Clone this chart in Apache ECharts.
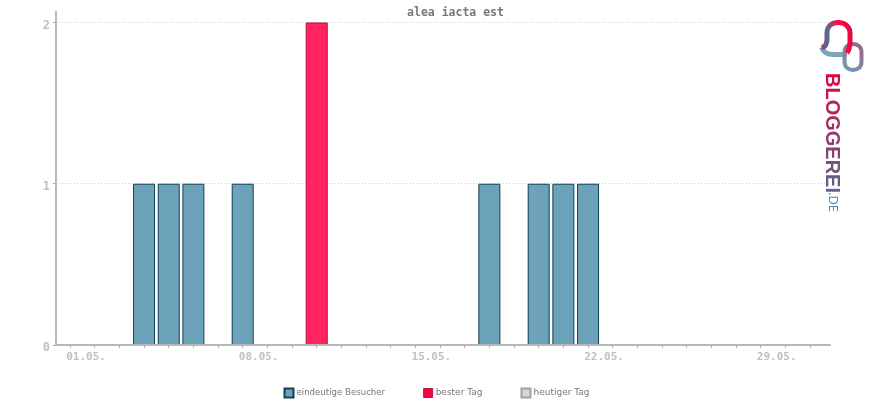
<!DOCTYPE html>
<html>
<head>
<meta charset="utf-8">
<style>html,body{margin:0;padding:0;background:#fff}#main{width:870px;height:400px}</style>
<script src="https://cdn.jsdelivr.net/npm/echarts@6/dist/echarts.min.js"></script>
</head>
<body>
<div id="main"></div>
<script>
var days = ['01.05.','02.05.','03.05.','04.05.','05.05.','06.05.','07.05.','08.05.','09.05.','10.05.',
  '11.05.','12.05.','13.05.','14.05.','15.05.','16.05.','17.05.','18.05.','19.05.','20.05.',
  '21.05.','22.05.','23.05.','24.05.','25.05.','26.05.','27.05.','28.05.','29.05.','30.05.','31.05.'];
var visitors = [0,0,0,1,1,1,0,1,0,0,0,0,0,0,0,0,0,1,0,1,1,1,0,0,0,0,0,0,0,0,0];
var bestDay  = [0,0,0,0,0,0,0,0,0,0,2,0,0,0,0,0,0,0,0,0,0,0,0,0,0,0,0,0,0,0,0];
var today    = [0,0,0,0,0,0,0,0,0,0,0,0,0,0,0,0,0,0,0,0,0,0,0,0,0,0,0,0,0,0,0];
var dayTicks = days.map(function (d, i) { return i; });
var labelDays = [0, 7, 14, 21, 28];
var yTicks = [0, 1, 2];
var logoWord = 'BLOGGEREI';
var logoColors = ['#e0063f','#d0104a','#bb2055','#a82c5f','#983868','#864570','#74527c','#635d86','#55688f'];

var mono = '"DejaVu Sans Mono", monospace';

function toPoints(arr) {
  return arr.map(function (v, i) { return [i, v]; }).filter(function (p) { return p[1] > 0; });
}

function grad(x, y, x2, y2, stops) {
  return new echarts.graphic.LinearGradient(x, y, x2, y2, stops.map(function (c, i) {
    return { offset: i / (stops.length - 1), color: c };
  }));
}

// the graphic component has no plain path type, so the logo strokes get registered as shapes
echarts.graphic.registerShape('logoBar', echarts.graphic.extendPath('M821.5 47.5C824 53 828 54.5 833 54.5L847 54.5', {}));
echarts.graphic.registerShape('logoRing', echarts.graphic.extendPath('M844.5 52.5C844.5 47 848 44 853 44C858 44 861.5 47 861.5 52.5L861.5 61.5C861.5 67 858 70 853 70C848 70 844.5 67 844.5 61.5Z', {}));
echarts.graphic.registerShape('logoArch', echarts.graphic.extendPath('M821.5 47.5C825 47 827 44 827 39L827 33C827 26 832 22.5 838.5 22.5C845 22.5 850 27 850 33L850 42C850 47 849 50 847 53', {}));

var rich = {};
var logoText = '';
logoColors.forEach(function (c, i) {
  rich['l' + i] = { fill: c, font: 'bold 20px "Liberation Sans"' };
  logoText += '{l' + i + '|' + logoWord[i] + '}';
});

var legendFont = '"DejaVu Sans"';

var option = {
  animation: false,
  backgroundColor: '#fff',
  title: {
    text: 'alea iacta est',
    left: 450.5, top: 2, textAlign: 'center',
    textStyle: { fontFamily: mono, fontSize: 11.5, fontWeight: 'bold', color: '#777' }
  },
  legend: {
    top: 382.5, left: 278.5,
    itemWidth: 9, itemHeight: 9, itemGap: 38,
    icon: 'rect',
    textStyle: { fontFamily: legendFont, fontSize: 8.6, color: '#777', padding: [0, 0, 0, -2] },
    data: [
      { name: 'eindeutige Besucher' },
      { name: 'bester Tag', itemStyle: { color: '#ff0040', borderColor: '#c0103f', borderWidth: 1 },
        textStyle: { fontFamily: legendFont, fontSize: 9, color: '#777', padding: [0, 3, 0, -2] } },
      { name: 'heutiger Tag', textStyle: { fontFamily: legendFont, fontSize: 9, color: '#777', padding: [0, 0, 0, -2] } }
    ]
  },
  grid: { left: 56, right: 40, top: 12, bottom: 55 },
  xAxis: {
    type: 'value', min: -0.57, max: 30.81, z: 5,
    splitLine: { show: false },
    axisLine: { onZero: false, lineStyle: { color: '#b8b8b8', width: 2 } },
    axisTick: { customValues: dayTicks, length: 3, lineStyle: { color: '#aaa' } },
    axisLabel: {
      customValues: labelDays,
      formatter: function (v) { return days[v]; },
      fontFamily: mono, fontSize: 11, fontWeight: 'bold', color: '#c0c0c0', margin: 7,
      padding: [0, 0, 0, 32], hideOverlap: false, showMinLabel: true, showMaxLabel: true
    }
  },
  yAxis: {
    type: 'value', min: 0, max: 2.065,
    splitLine: { show: true, lineStyle: { color: '#ccc', type: [1, 2], width: 1 } },
    axisLine: { show: true, onZero: false, lineStyle: { color: '#b8b8b8', width: 2 } },
    axisTick: { show: true, customValues: yTicks, length: 3, lineStyle: { color: '#aaa' } },
    axisLabel: {
      customValues: yTicks,
      fontFamily: mono, fontSize: 12, fontWeight: 'bold', color: '#c0c0c0', margin: 6,
      verticalAlign: 'top', lineHeight: 6
    }
  },
  series: [
    { name: 'eindeutige Besucher', type: 'bar', barWidth: 22, barGap: '-100%',
      data: toPoints(visitors),
      itemStyle: { color: '#6ca3bb', borderColor: '#123f55', borderWidth: 1 } },
    { name: 'bester Tag', type: 'bar', barWidth: 22, barGap: '-100%',
      data: toPoints(bestDay),
      itemStyle: { color: '#ff2460', borderColor: '#b00a3c', borderWidth: 1 } },
    { name: 'heutiger Tag', type: 'bar', barWidth: 22, barGap: '-100%',
      data: toPoints(today),
      itemStyle: { color: '#d6d6d6', borderColor: '#a0a0a0', borderWidth: 1 } }
  ],
  graphic: [
    { type: 'logoBar', z: 20,
      style: { fill: 'none', lineWidth: 5, stroke: grad(0, 0, 1, 0, ['#6aa9c4', '#8fa3b0']) } },
    { type: 'logoRing', z: 21,
      style: { fill: 'none', lineWidth: 4, stroke: grad(0, 1, 1, 0, ['#6aa3bc', '#a05c80']) } },
    { type: 'logoArch', z: 22,
      style: { fill: 'none', lineWidth: 5, stroke: grad(0, 0.6, 1, 0.3, ['#8a4a74', '#4f6f92', '#ff0a45', '#e0063f']) } },
    { type: 'text', x: 842, y: 73, rotation: -Math.PI / 2, z: 20,
      style: { text: logoText, rich: rich, textAlign: 'left', textVerticalAlign: 'top' } },
    { type: 'text', x: 839, y: 192, rotation: -Math.PI / 2, z: 20,
      style: { text: '.DE', fill: '#4c86a6', font: '13px "Open Sans"', textAlign: 'left', textVerticalAlign: 'top' } }
  ]
};

var chart = echarts.init(document.getElementById('main'));
chart.setOption(option);
</script>
</body>
</html>
